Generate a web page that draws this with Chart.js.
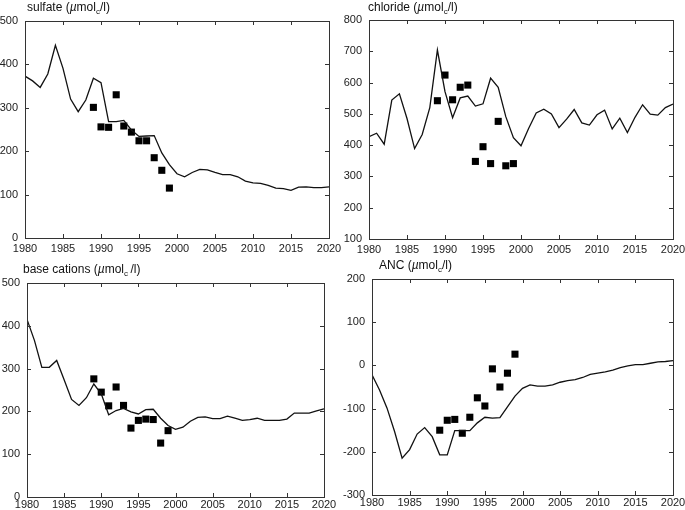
<!DOCTYPE html>
<html>
<head>
<meta charset="utf-8">
<script src="https://cdn.jsdelivr.net/npm/chart.js@4"></script>
<style>
  body { margin: 0; background: #fff; }
  #page { position: relative; width: 685px; height: 510px; overflow: hidden; }
  .panel { position: absolute; }
  .ttl { position: absolute; font-family: "Liberation Sans", Arial, sans-serif; font-size: 12px; line-height: 14px; color: #111; white-space: nowrap; }
  .ttl sub { font-size: 8px; vertical-align: -3px; line-height: 0; }
</style>
</head>
<body>
<div id="page">
  <div class="panel" style="left:0;top:0;width:342px;height:255px"><canvas id="sulfate"></canvas></div>
  <div class="panel" style="left:342px;top:0;width:343px;height:255px"><canvas id="chloride"></canvas></div>
  <div class="panel" style="left:0;top:255px;width:342px;height:255px"><canvas id="bc"></canvas></div>
  <div class="panel" style="left:342px;top:255px;width:343px;height:255px"><canvas id="anc"></canvas></div>
  <div class="ttl" style="left:27px;top:0px">sulfate (<i>µ</i>mol<sub>c</sub>/l)</div>
  <div class="ttl" style="left:368px;top:0px">chloride (<i>µ</i>mol<sub>c</sub>/l)</div>
  <div class="ttl" style="left:23px;top:262px">base cations (<i>µ</i>mol<sub>c</sub>&#8201;/l)</div>
  <div class="ttl" style="left:379px;top:258px">ANC (<i>µ</i>mol<sub>c</sub>/l)</div>
</div>
<script>
// simulated years and measured years
const years = [1980, 1981, 1982, 1983, 1984, 1985, 1986, 1987, 1988, 1989,
    1990, 1991, 1992, 1993, 1994, 1995, 1996, 1997, 1998, 1999,
    2000, 2001, 2002, 2003, 2004, 2005, 2006, 2007, 2008, 2009,
    2010, 2011, 2012, 2013, 2014, 2015, 2016, 2017, 2018, 2019, 2020];
const obsYears = [1989, 1990, 1991, 1992, 1993, 1994, 1995, 1996, 1997, 1998, 1999];

// sulfate
const sulfateModel = [373, 362, 347, 378, 444, 391, 320, 291, 318, 368,
    358, 268, 268, 271, 249, 234, 235, 236, 196, 169,
    148, 141, 151, 158, 157, 151, 146, 146, 141, 131,
    127, 126, 121, 115, 114, 110, 117, 118, 116, 116, 118];
const sulfateObs = [301, 256, 255, 330, 258, 244, 224, 224, 185, 156, 115];

// chloride
const chlorideModel = [427, 438, 403, 544, 564, 485, 389, 434, 520, 704,
    571, 488, 551, 557, 525, 532, 614, 585, 491, 424,
    398, 453, 503, 515, 500, 456, 483, 514, 471, 464,
    497, 512, 452, 486, 440, 489, 529, 499, 496, 520, 531];
const chlorideObs = [542, 624, 545, 585, 592, 348, 395, 341, 476, 334, 341];

// base cations
const bcModel = [415, 366, 303, 303, 319, 274, 228, 214, 232, 264,
    241, 192, 202, 207, 199, 194, 204, 205, 184, 167,
    158, 163, 177, 186, 187, 183, 183, 189, 184, 179,
    181, 184, 179, 179, 179, 182, 196, 196, 196, 201, 206];
const bcObs = [276, 245, 213, 257, 214, 161, 179, 182, 181, 126, 155];

// ANC
const ancModel = [-22, -57, -99, -153, -215, -195, -159, -144, -165, -207,
    -207, -151, -151, -151, -133, -120, -122, -121, -96, -71,
    -53, -45, -48, -48, -45, -39, -35, -33, -28, -21,
    -18, -15, -11, -5, -1, 2, 2, 5, 8, 9, 11];
const ancObs = [-150, -127, -125, -157, -120, -75, -94, -8, -50, -18, 26];

const FONT = { family: '"Liberation Sans", Arial, sans-serif', size: 11 };

// box round the plot area and short inward ticks on all four sides
const frameTicks = {
    id: 'frameTicks',
    afterDatasetsDraw(chart) {
        const { ctx, chartArea: a, scales } = chart;
        const len = 4;
        ctx.save();
        ctx.strokeStyle = '#333';
        ctx.lineWidth = 1;
        ctx.strokeRect(Math.round(a.left) + 0.5, Math.round(a.top) + 0.5,
            Math.round(a.right - a.left), Math.round(a.bottom - a.top));
        ctx.beginPath();
        scales.x.ticks.forEach(t => {
            const px = Math.round(scales.x.getPixelForValue(t.value)) + 0.5;
            ctx.moveTo(px, a.bottom); ctx.lineTo(px, a.bottom - len);
            ctx.moveTo(px, a.top); ctx.lineTo(px, a.top + len);
        });
        scales.y.ticks.forEach(t => {
            const py = Math.round(scales.y.getPixelForValue(t.value)) + 0.5;
            ctx.moveTo(a.left, py); ctx.lineTo(a.left + len, py);
            ctx.moveTo(a.right, py); ctx.lineTo(a.right - len, py);
        });
        ctx.stroke();
        ctx.restore();
    }
};

function makePanel(id, model, obs, yMin, yMax, box) {
    const line = years.map((yr, i) => ({ x: yr, y: model[i] }));
    const pts = obsYears.map((yr, i) => ({ x: yr, y: obs[i] }));
    return new Chart(document.getElementById(id), {
        type: 'line',
        data: {
            datasets: [
                {
                    data: line,
                    borderColor: '#111',
                    borderWidth: 1.3,
                    pointRadius: 0,
                    tension: 0,
                    fill: false
                },
                {
                    data: pts,
                    showLine: false,
                    pointStyle: 'rect',
                    pointRadius: 5,
                    backgroundColor: '#000',
                    borderWidth: 0
                }
            ]
        },
        options: {
            responsive: true,
            maintainAspectRatio: false,
            animation: false,
            layout: { padding: { left: 0, top: box.top, right: box.right, bottom: 0 } },
            plugins: { legend: { display: false }, tooltip: { enabled: false } },
            scales: {
                x: {
                    type: 'linear',
                    min: 1980,
                    max: 2020,
                    grid: { display: false, drawTicks: false },
                    border: { display: false },
                    ticks: { stepSize: 5, color: '#222', font: FONT, padding: box.xpad, maxRotation: 0,
                        callback: v => String(v) },
                    afterFit: s => { s.height = box.bottom; s.paddingLeft = 0; s.paddingRight = 0; }
                },
                y: {
                    min: yMin,
                    max: yMax,
                    grid: { display: false, drawTicks: false },
                    border: { display: false },
                    ticks: { stepSize: 100, color: '#222', font: FONT, padding: 7 },
                    afterFit: s => { s.width = box.left; s.paddingTop = 0; s.paddingBottom = 0; }
                }
            }
        },
        plugins: [frameTicks]
    });
}

makePanel('sulfate', sulfateModel, sulfateObs, 0, 500, { left: 25, right: 13, top: 21, bottom: 17, xpad: 4 });
makePanel('chloride', chlorideModel, chlorideObs, 100, 800, { left: 27, right: 12, top: 20, bottom: 16, xpad: 4 });
makePanel('bc', bcModel, bcObs, 0, 500, { left: 27, right: 18, top: 28, bottom: 13, xpad: 1 });
makePanel('anc', ancModel, ancObs, -300, 200, { left: 30, right: 12, top: 24, bottom: 15, xpad: 1 });
</script>
</body>
</html>
